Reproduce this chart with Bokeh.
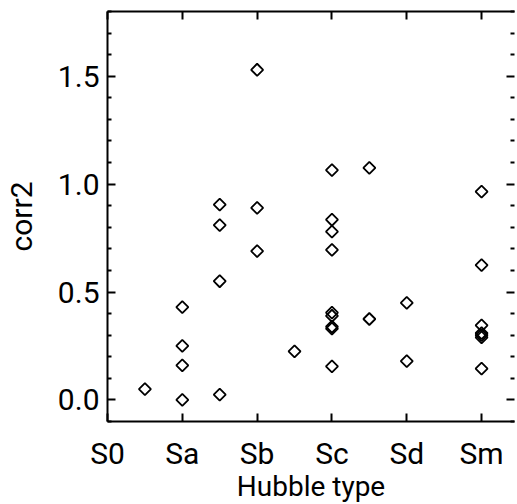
import math
from bokeh.plotting import figure
from bokeh.models import Range1d, LinearAxis, FixedTicker, PrintfTickFormatter, CustomLabelingPolicy
from bokeh.embed import file_html
from bokeh.resources import INLINE

# Hubble type code: S0=0, Sa=1, Sb=2, Sc=3, Sd=4, Sm=5 (half steps for intermediate types)
hubble_code = [0.5,
               1.0, 1.0, 1.0, 1.0,
               1.5, 1.5, 1.5, 1.5,
               2.0, 2.0, 2.0,
               2.5,
               3.0, 3.0, 3.0, 3.0, 3.0, 3.0, 3.0, 3.0, 3.0,
               3.5, 3.5,
               4.0, 4.0,
               5.0, 5.0, 5.0, 5.0, 5.0, 5.0, 5.0]
corr2 = [0.05,
         0.43, 0.25, 0.16, 0.0,
         0.905, 0.81, 0.55, 0.025,
         1.53, 0.89, 0.69,
         0.225,
         1.065, 0.835, 0.78, 0.695, 0.405, 0.39, 0.34, 0.33, 0.155,
         1.075, 0.375,
         0.45, 0.18,
         0.965, 0.625, 0.345, 0.31, 0.30, 0.29, 0.145]

x_tick_pos = [0, 1, 2, 3, 4, 5]
x_tick_labels = ["S0", "Sa", "Sb", "Sc", "Sd", "Sm"]
y_major = [0.0, 0.5, 1.0, 1.5]
y_minor = [-0.1, 0.1, 0.2, 0.3, 0.4, 0.6, 0.7, 0.8, 0.9, 1.1, 1.2, 1.3, 1.4, 1.6, 1.7, 1.8]

FONT = "Roboto"
FS = "30px"

p = figure(frame_width=407, frame_height=410,
           x_range=Range1d(0, 5.44), y_range=Range1d(-0.1, 1.8),
           output_backend="svg", toolbar_location=None,
           min_border_left=100, min_border_top=11, min_border_right=0, min_border_bottom=40)
p.outline_line_color = None
p.xgrid.visible = False
p.ygrid.visible = False
p.background_fill_color = "white"
p.border_fill_color = "white"

def style_axis(ax):
    ax.axis_line_color = "black"
    ax.axis_line_width = 2
    ax.major_tick_line_color = "black"
    ax.major_tick_line_width = 2
    ax.minor_tick_line_color = "black"
    ax.minor_tick_line_width = 2
    ax.major_tick_in = 8
    ax.major_tick_out = 0
    ax.minor_tick_in = 4
    ax.minor_tick_out = 0
    ax.major_label_text_font = FONT
    ax.major_label_text_font_size = FS
    ax.major_label_text_color = "black"
    ax.axis_label_text_font = FONT
    ax.axis_label_text_font_size = FS
    ax.axis_label_text_font_style = "normal"
    ax.axis_label_text_color = "black"

no_labels = CustomLabelingPolicy(code="""
for (let i = 0; i < indices.size; i++) { indices.unset(i) }
return indices
""")

# bottom
xb = p.xaxis[0]
style_axis(xb)
xb.ticker = FixedTicker(ticks=x_tick_pos)
xb.major_label_overrides = {float(t): lab for t, lab in zip(x_tick_pos, x_tick_labels)}
xb.axis_label = "Hubble type"
xb.axis_label_text_font_size = "28px"
xb.major_label_standoff = 14
xb.axis_label_standoff = -4

# left
yl = p.yaxis[0]
style_axis(yl)
yl.ticker = FixedTicker(ticks=y_major, minor_ticks=y_minor)
yl.formatter = PrintfTickFormatter(format="%.1f")
yl.axis_label = "corr2"
yl.major_label_standoff = 8
yl.axis_label_standoff = 16

# top
xt = LinearAxis(ticker=FixedTicker(ticks=x_tick_pos))
style_axis(xt)
xt.major_label_text_font_size = "1px"
xt.major_label_standoff = 0
xt.major_label_policy = no_labels
p.add_layout(xt, "above")

# right
yr = LinearAxis(ticker=FixedTicker(ticks=y_major, minor_ticks=y_minor))
style_axis(yr)
yr.axis_line_color = None
yr.major_label_text_font_size = "1px"
yr.major_label_standoff = 0
yr.major_label_policy = no_labels
p.add_layout(yr, "right")

p.scatter(hubble_code, corr2, marker="square", angle=math.pi / 4, size=8.5,
          fill_color=None, line_color="black", line_width=1.8)

open("out.html", "w").write(file_html(p, INLINE))
